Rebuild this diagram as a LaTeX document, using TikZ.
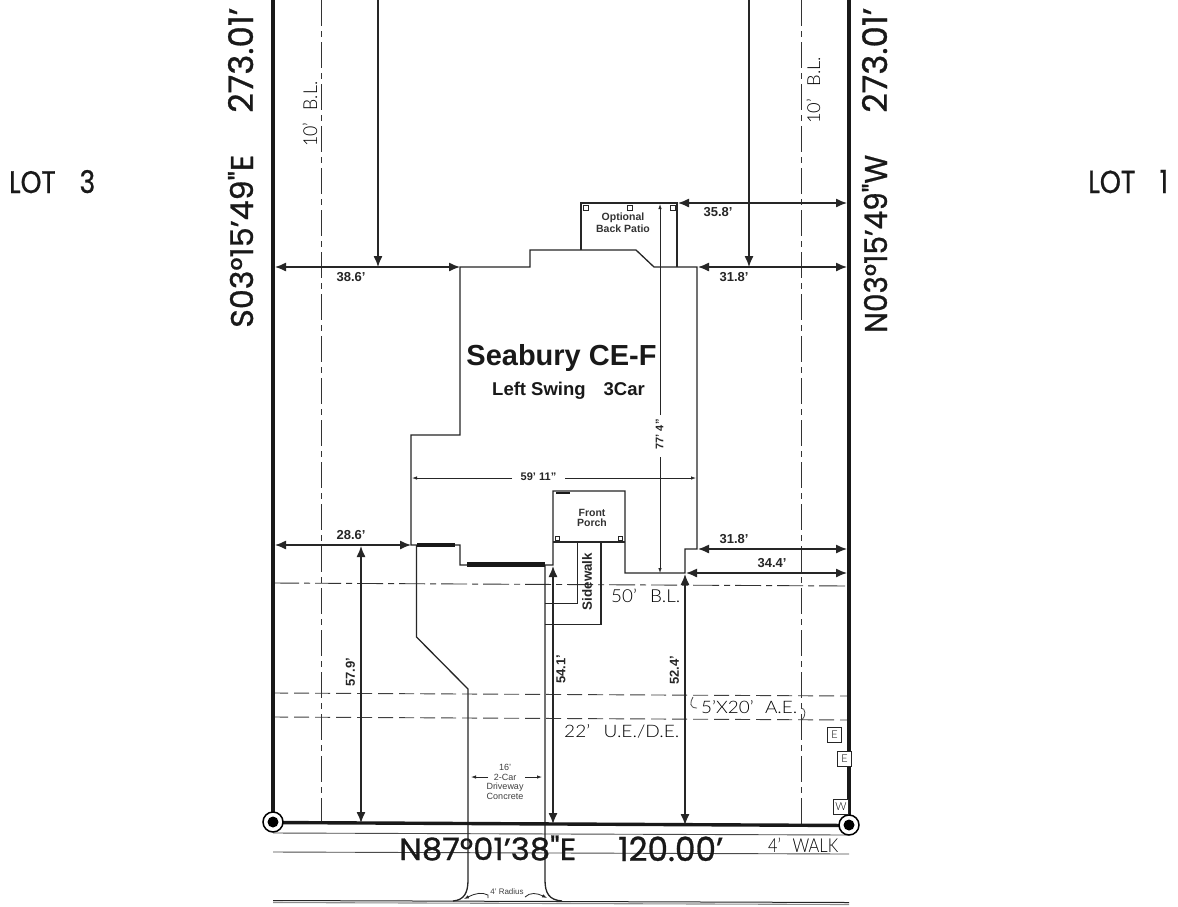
\documentclass[tikz,border=0pt]{standalone}
\usepackage{fontspec}
\usepackage{graphicx}
\setmainfont{Liberation Sans}
\newfontfamily\cadheavy[FakeBold=0.8]{Poppins}
\newfontfamily\cadthin{Lato Light}
\usetikzlibrary{arrows.meta}
\newcommand{\fs}[1]{\fontsize{#1}{#1}\selectfont}
\newcommand{\fit}[3]{\resizebox{#1pt}{#2pt}{#3}}
\tikzset{
  x=1pt,y=-1pt,
  wall/.style={line width=1.3pt,draw=black!85},
  boundary/.style={line width=3.4pt,draw=black!90},
  thin line/.style={line width=0.9pt,draw=black!70},
  ease/.style={line width=0.9pt,draw=black!75,dash pattern=on 15pt off 6pt},
  setback/.style={line width=0.9pt,draw=black!80,dash pattern=on 26pt off 5pt on 6pt off 5pt},
  dim/.style={line width=1.3pt,draw=black!85,{Latex[length=11pt,width=9pt]}-{Latex[length=11pt,width=9pt]}},
  dimdown/.style={line width=1.3pt,draw=black!85,-{Latex[length=11pt,width=9pt]}},
  small tip/.style={line width=0.8pt,draw=black!85,-{Latex[length=5pt,width=3.5pt]}},
  dimtext/.style={font=\bfseries\fs{13},text=black!85,inner sep=0pt},
  note/.style={font=\bfseries\fs{10.5},text=black!80,inner sep=0pt},
  drive/.style={font=\fs{9},text=black!75,inner sep=0pt,align=center},
  cad/.style={font=\cadheavy,text=black!90,inner sep=0pt},
  plain/.style={font=\cadthin,text=black,inner sep=0pt},
  post/.style={draw=black!85,line width=0.9pt,fill=white,minimum size=5pt,inner sep=0pt},
  meter/.style={draw=black!85,line width=0.7pt,fill=white,minimum size=14.5pt,inner sep=0pt,font=\cadthin\fs{11}},
  monument/.style={draw=black,line width=1.5pt,circle,minimum size=20pt,inner sep=0pt,fill=white},
}
\begin{document}
\begin{tikzpicture}
\useasboundingbox (0,0) rectangle (1178,906);
\clip (0,0) rectangle (1178,906);
\fill[white] (0,0) rectangle (1178,906);

% easements, setbacks, walk, road
\draw[setback] (273,583) -- (849,586);
\draw[ease] (273,693) -- (849,696);
\draw[ease] (273,717) -- (849,720);
\draw[setback] (321,0) -- (321,823);
\draw[setback] (801,0) -- (801,825);
\draw[thin line] (273,833) -- (849,835);
\draw[thin line] (273,852) -- (849,854);
\draw[line width=1.1pt,black!45] (273,902.5) -- (849,904.5);
\draw[line width=1pt,black!85] (273,900.5) -- (849,902.5);

% house
\draw[wall] (460,267) -- (530,267) -- (530,250) -- (636,250) -- (654,267) -- (697,267)
  -- (697,549) -- (685,549) -- (685,573) -- (625,573) -- (625,491) -- (553,491) -- (553,565)
  -- (460,565) -- (460,545) -- (411,545) -- (411,435) -- (460,435) -- cycle;
\draw[wall] (553,542) -- (625,542);
% patio
\draw[wall] (581,250) -- (581,203) -- (677,203) -- (677,267);
\node[post] (p1) at (586,208) {};
\node[post] (p2) at (630,208) {};
\node[post] (p3) at (673,208) {};
\node[post,minimum size=4pt] (p4) at (557,538.5) {};
\node[post,minimum size=4pt] (p5) at (620,538.5) {};
% sidewalk
\draw[wall] (577.5,542) -- (577.5,603.5) -- (545,603.5);
\draw[wall] (601,542) -- (601,624.5) -- (545,624.5);
% driveway
\draw[wall] (416.5,545) -- (416.5,637) -- (468,689) -- (468,880) .. controls (468,893) and (464,900) .. (453,901);
\draw[wall] (545,565) -- (545,880) .. controls (545,893) and (549,900) .. (562,901);

% boundary
\draw[boundary] (273,0) -- (273,822);
\draw[boundary] (849,0) -- (849,825);
\draw[boundary] (273,822.5) -- (849,825.5);
\node[monument] (c1) at (273,822) {};
\fill[black] (c1) circle (5.5);
\node[monument] (c2) at (849,825) {};
\fill[black] (c2) circle (5.5);

% dimensions
\draw[dim] (275,267) -- (460,267);
\draw[dim] (678,203) -- (847,203);
\draw[dim] (698,267) -- (847,267);
\draw[dim] (275,545) -- (411,545);
\draw[dim] (698,549) -- (847,549);
\draw[dim] (686,573) -- (847,573);
\draw[dimdown] (378,0) -- (378,267);
\draw[dimdown] (749,0) -- (749,267);
\draw[dim] (361,546) -- (361,823);
\draw[dim] (553,566) -- (553,824);
\draw[dim] (685,574) -- (685,825);
\draw[small tip] (660,415) -- (660,204);
\draw[small tip] (660,457) -- (660,573);
\draw[small tip] (512,478) -- (412,478);
\draw[small tip] (565,478) -- (696,478);
\draw[small tip] (488,777) -- (471,777);
\draw[small tip] (525,777) -- (542,777);
\draw[small tip] (488,898) -- (488,895) .. controls (482,892) and (476,893) .. (464,899);
\draw[small tip] (525,897) .. controls (530,892) and (537,893) .. (547,898);
% heavy wall segments
\draw[line width=4.5pt,black!90] (417,545) -- (455,545);
\draw[line width=4.7pt,black!90] (467,564.5) -- (545,564.5);
\draw[line width=2pt,black!90] (556,492.5) -- (570,492.5);

% dimension text
\node[dimtext] (t386) at (351,277) {38.6’};
\node[dimtext] (t358) at (718,212) {35.8’};
\node[dimtext] (t318a) at (734,277) {31.8’};
\node[dimtext] (t286) at (351,535) {28.6’};
\node[dimtext] (t318b) at (734,539) {31.8’};
\node[dimtext] (t344) at (772,563) {34.4’};
\node[dimtext,rotate=90] (t579) at (350.5,672) {57.9’};
\node[dimtext,rotate=90] (t541) at (561,669) {54.1’};
\node[dimtext,rotate=90] (t524) at (674.5,670) {52.4’};
\node[font=\bfseries\fs{11},text=black!85,inner sep=0pt] (t59) at (538.5,477) {59’\hspace{0.3em}11"};
\node[font=\bfseries\fs{11},text=black!85,inner sep=0pt,rotate=90] (t77) at (659.5,434.5) {77’\hspace{0.3em}4"};

% notes
\node[note] (patio1) at (623,218) {Optional};
\node[note] (patio2) at (623,229) {Back Patio};
\node[note] (porch1) at (592,513) {Front};
\node[note] (porch2) at (592,523) {Porch};
\node[font=\bfseries\fs{13.4},text=black!85,inner sep=0pt,rotate=90] (walktxt) at (587,581.5) {Sidewalk};
\node[font=\bfseries\fs{29},text=black!90,inner sep=0pt] (title) at (561.5,358) {Seabury CE-F};
\node[font=\bfseries\fs{18.5},text=black!90,inner sep=0pt,anchor=base west] (sub1) at (492,395) {Left Swing};
\node[font=\bfseries\fs{18.5},text=black!90,inner sep=0pt,anchor=base east] (sub2) at (645,395) {3Car};
\node[drive] (dr1) at (505,767) {16’};
\node[drive] (dr2) at (505,777) {2-Car};
\node[drive] (dr3) at (505,787) {Driveway};
\node[drive] (dr4) at (505,796) {Concrete};
\node[font=\fs{8},text=black!75,inner sep=0pt] (rad) at (507,892) {4’ Radius};

% CAD text
\node[cad,anchor=base west] (lot3) at (9,193) {\fit{86}{23}{LOT\hspace{0.9em}3}};
\node[cad,anchor=base west] (lot1) at (1088,193) {\fit{80}{23}{LOT\hspace{0.9em}1}};
\node[cad,rotate=90,anchor=base west] (sb) at (253,328) {\fit{173}{25}{S03°15’49"E}};
\node[cad,rotate=90,anchor=base west] (sd) at (253,113) {\fit{105}{25}{273.01’}};
\node[cad,rotate=90,anchor=base west] (nb) at (887,333) {\fit{178}{25}{N03°15’49"W}};
\node[cad,rotate=90,anchor=base west] (nd) at (887,113) {\fit{105}{25}{273.01’}};
\node[cad,anchor=base west] (nbot) at (399,860) {\fit{177}{24.5}{N87°01’38"E}};
\node[cad,anchor=base west] (dbot) at (618,861) {\fit{105}{24.5}{120.00’}};
\node[plain,rotate=90,anchor=base west] (bl1) at (317,147) {\fit{65}{14.5}{10’\hspace{0.7em}B.L.}};
\node[plain,rotate=90,anchor=base west] (bl2) at (820,124) {\fit{67}{13.5}{10’\hspace{0.7em}B.L.}};
\node[plain,anchor=base west] (bl50) at (611,602) {\fit{69}{13.5}{50’\hspace{0.7em}B.L.}};
\node[plain,anchor=base west] (ae) at (701,713) {\fit{96}{13}{5’X20’\hspace{0.6em}A.E.}};
\node[plain,anchor=base west] (ue) at (564,737) {\fit{115}{13}{22’\hspace{0.7em}U.E./D.E.}};
\node[plain,anchor=base west] (wlk) at (768,852) {\fit{70}{14.5}{4’\hspace{0.7em}WALK}};
\draw[line width=0.8pt,black!70] (693,697) .. controls (690,702) and (689,708) .. (697,708);
\draw[line width=0.8pt,black!70] (801,708) .. controls (806,708) and (806,716) .. (802,720);
\node[meter] (e1) at (834.5,735) {E};
\node[meter] (e2) at (844.5,759) {E};
\node[meter] (w1) at (841,807) {W};
\end{tikzpicture}
\end{document}
